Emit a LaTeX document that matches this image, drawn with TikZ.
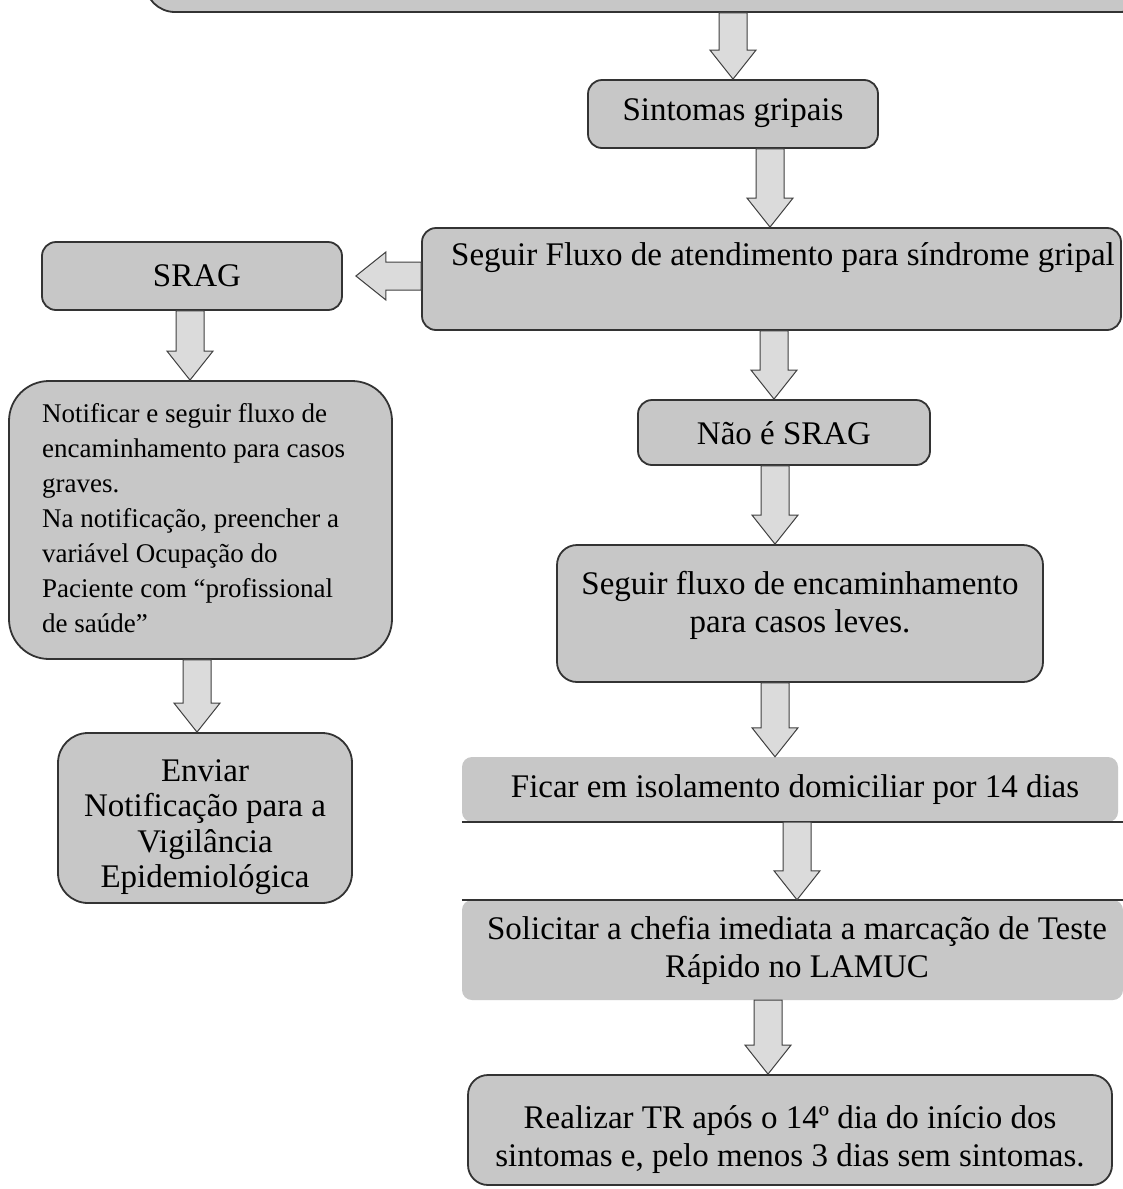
\documentclass[tikz,border=0pt]{standalone}
\usepackage{fontspec}
\setmainfont{Liberation Serif}
\usetikzlibrary{calc}
\tikzset{
  box/.style={draw=black!80, line width=1.8pt, fill=black!22, rounded corners=#1, inner sep=0pt},
  box/.default=14pt,
  flatbox/.style={fill=black!22, rounded corners=10pt, inner sep=0pt, draw=none},
  edgeline/.style={draw=black!80, line width=1.6pt},
  barrow/.style={draw=black!75, line width=1pt, fill=black!14, line join=miter},
  txt/.style={font=\fontsize{33}{38}\selectfont, inner sep=0pt, align=center},
  envtxt/.style={font=\fontsize{33}{35.5}\selectfont, inner sep=0pt, align=center},
  smalltxt/.style={font=\fontsize{27}{35}\selectfont, inner sep=0pt, align=left},
}
\newcommand{\varrow}[3]{%
  \draw[barrow] let \p1=(#2.south), \p2=(#3.north) in
    ({#1pt-14pt},\y1) -- ({#1pt-14pt},{\y2+29pt}) -- ({#1pt-23pt},{\y2+29pt}) --
    (#1pt,\y2) -- ({#1pt+23pt},{\y2+29pt}) -- ({#1pt+14pt},{\y2+29pt}) --
    ({#1pt+14pt},\y1) -- cycle;}
\begin{document}
\begin{tikzpicture}
\useasboundingbox (0pt,0pt) rectangle (1123pt,-1189pt);
\fill[white] (0pt,0pt) rectangle (1123pt,-1189pt);

% boxes
\node[box=30pt, minimum width=1005pt, minimum height=72pt] (top) at (647.5pt,24pt) {};
\node[box, minimum width=290pt, minimum height=68pt] (sint) at (733pt,-114pt) {};
\node[box, minimum width=699pt, minimum height=102pt] (fluxo) at (771.5pt,-279pt) {};
\node[box, minimum width=300pt, minimum height=68pt] (srag) at (192pt,-276pt) {};
\node[box=40pt, minimum width=383pt, minimum height=278pt] (notif) at (200.5pt,-520pt) {};
\node[box=30pt, minimum width=294pt, minimum height=170pt] (enviar) at (205pt,-818pt) {};
\node[box, minimum width=292pt, minimum height=65pt] (nao) at (784pt,-432.5pt) {};
\node[box=20pt, minimum width=486pt, minimum height=137pt] (leves) at (800pt,-613.5pt) {};
\node[flatbox, minimum width=656pt, minimum height=65pt] (ficar) at (790pt,-789.5pt) {};
\draw[edgeline] (ficar.south west) -- ($(ficar.south east)+(8pt,0pt)$);
\node[flatbox, minimum width=661pt, minimum height=100pt] (solic) at (792.5pt,-950pt) {};
\draw[edgeline] (solic.north west) -- (solic.north east);
\node[box=20pt, minimum width=644pt, minimum height=110pt] (real) at (790pt,-1130pt) {};

% texts
\node[txt] (tsint) at (733pt,-113pt) {Sintomas gripais};
\node[txt] (tfluxo) at (783pt,-258pt) {Seguir Fluxo de atendimento para síndrome gripal};
\node[txt] (tsrag) at (197pt,-276pt) {SRAG};
\node[smalltxt, anchor=north west] (tnotif) at (42pt,-403pt) {Notificar e seguir fluxo de\\encaminhamento para casos\\graves.\\Na notificação, preencher a\\variável Ocupação do\\Paciente com “profissional\\de saúde”};
\node[envtxt] (tenviar) at (205pt,-827pt) {Enviar\\Notificação para a\\Vigilância\\Epidemiológica};
\node[txt] (tnao) at (784pt,-433pt) {Não é SRAG};
\node[txt] (tleves) at (800pt,-605pt) {Seguir fluxo de encaminhamento\\para casos leves.};
\node[txt] (tficar) at (795pt,-790pt) {Ficar em isolamento domiciliar por 14 dias};
\node[txt] (tsolic) at (797pt,-950pt) {Solicitar a chefia imediata a marcação de Teste\\Rápido no LAMUC};
\node[txt] (treal) at (790pt,-1140pt) {Realizar TR após o 14º dia do início dos\\sintomas e, pelo menos 3 dias sem sintomas.};

% arrows
\varrow{733}{top}{sint}
\varrow{770}{sint}{fluxo}
\varrow{774}{fluxo}{nao}
\varrow{775}{nao}{leves}
\varrow{775}{leves}{ficar}
\varrow{797}{ficar}{solic}
\varrow{768}{solic}{real}
\varrow{190}{srag}{notif}
\varrow{197}{notif}{enviar}
\draw[barrow] let \p1=(fluxo.west), \p2=(srag.east) in
  (\x1,{\y2+14pt}) -- ({\x2+43pt},{\y2+14pt}) -- ({\x2+43pt},{\y2+24pt}) --
  ({\x2+13pt},\y2) -- ({\x2+43pt},{\y2-24pt}) -- ({\x2+43pt},{\y2-14pt}) --
  (\x1,{\y2-14pt}) -- cycle;
\end{tikzpicture}
\end{document}
